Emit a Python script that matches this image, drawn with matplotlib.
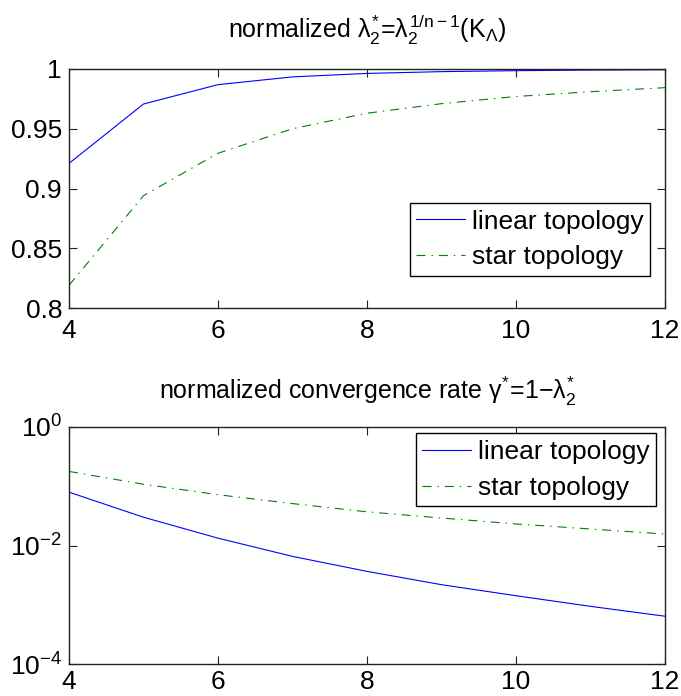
import matplotlib
matplotlib.use("Agg")
import matplotlib.pyplot as plt
from matplotlib.ticker import FixedLocator, NullLocator

plt.rcParams['font.family'] = ['Liberation Sans', 'DejaVu Sans']
plt.rcParams['mathtext.fontset'] = 'custom'
plt.rcParams['mathtext.rm'] = 'Liberation Sans'
plt.rcParams['mathtext.it'] = 'Liberation Sans'
plt.rcParams['mathtext.bf'] = 'Liberation Sans'
plt.rcParams['mathtext.sf'] = 'Liberation Sans'
plt.rcParams['axes.unicode_minus'] = True
plt.rcParams['lines.scale_dashes'] = False

# data
n = [4, 5, 6, 7, 8, 9, 10, 11, 12]
lambda_linear = [0.921, 0.9707, 0.9869, 0.9934, 0.9963, 0.9978, 0.9986, 0.9991, 0.99937]
lambda_star = [0.819, 0.894, 0.9295, 0.950, 0.963, 0.971, 0.977, 0.981, 0.9844]
gamma_linear = [0.0795, 0.0300, 0.0133, 0.00655, 0.00366, 0.00218, 0.00142, 0.00094, 0.00064]
gamma_star = [0.178, 0.108, 0.072, 0.051, 0.0370, 0.0291, 0.0231, 0.0190, 0.0156]
labels = ['linear topology', 'star topology']
xticks = [4, 6, 8, 10, 12]
yticks_top = [0.8, 0.85, 0.9, 0.95, 1.0]
yticklabels_top = ['0.8', '0.85', '0.9', '0.95', '1']
yticks_bot = [1e-4, 1e-2, 1e0]
yticklabels_bot = [r'$10^{-4}$', r'$10^{-2}$', r'$10^{0}$']
title_top = r'normalized $\lambda_2^{*}$=$\lambda_2^{1/n-1}$(K$_\Lambda$)'
title_bot = r'normalized convergence rate $\gamma^{*}$=1$-$$\lambda_2^{*}$'

W, H = 681, 696
fig = plt.figure(figsize=(W / 100, H / 100), dpi=100)

def box(l, t, r, b):
    return [l / W, 1 - b / H, (r - l) / W, (b - t) / H]

ax1 = fig.add_axes(box(69, 69, 665, 308))
ax2 = fig.add_axes(box(69, 427, 665, 664))

FS = 19
blue = (0, 0, 1)
green = (0, 0.5, 0)
dd = (0, (6.5, 4.3, 1.0, 4.3))

ax1.plot(n, lambda_linear, color=blue, lw=0.8, label=labels[0])
ax1.plot(n, lambda_star, color=green, lw=0.8, linestyle=dd, label=labels[1])
ax1.set_xlim(4, 12)
ax1.set_ylim(0.8, 1.0)
ax1.set_yticks(yticks_top)
ax1.set_yticklabels(yticklabels_top)

ax2.plot(n, gamma_linear, color=blue, lw=0.8, label=labels[0])
ax2.plot(n, gamma_star, color=green, lw=0.8, linestyle=dd, label=labels[1])
ax2.set_yscale('log')
ax2.set_xlim(4, 12)
ax2.set_ylim(1e-4, 1e0)
ax2.yaxis.set_major_locator(FixedLocator(yticks_bot))
ax2.yaxis.set_minor_locator(NullLocator())
ax2.set_yticklabels(yticklabels_bot)

for ax in (ax1, ax2):
    ax.set_xticks(xticks)
    ax.set_xticklabels([str(v) for v in xticks])
    ax.tick_params(direction='in', length=6, width=0.8, labelsize=FS,
                   top=True, right=True, color='#222222')
    ax.tick_params(axis='y', pad=5)
    for s in ax.spines.values():
        s.set_linewidth(1.0)
        s.set_color('#222222')
ax1.tick_params(axis='x', pad=8)
ax2.tick_params(axis='x', pad=4.5)

ax1.set_title(title_top, fontsize=18, pad=22)
ax2.set_title(title_bot, fontsize=18, pad=20)

leg_kw = dict(fontsize=FS, frameon=True, fancybox=False, edgecolor='black',
              handlelength=1.85, handletextpad=0.25, borderpad=0.25,
              labelspacing=0.45, borderaxespad=0.0)
l1 = ax1.legend(loc='lower right', bbox_to_anchor=(0.975, 0.134), **leg_kw)
l2 = ax2.legend(loc='upper right', bbox_to_anchor=(0.985, 0.973), **leg_kw)
for l in (l1, l2):
    l.get_frame().set_linewidth(1.0)
    l.get_frame().set_alpha(1)

fig.savefig('out.png', dpi=100)
